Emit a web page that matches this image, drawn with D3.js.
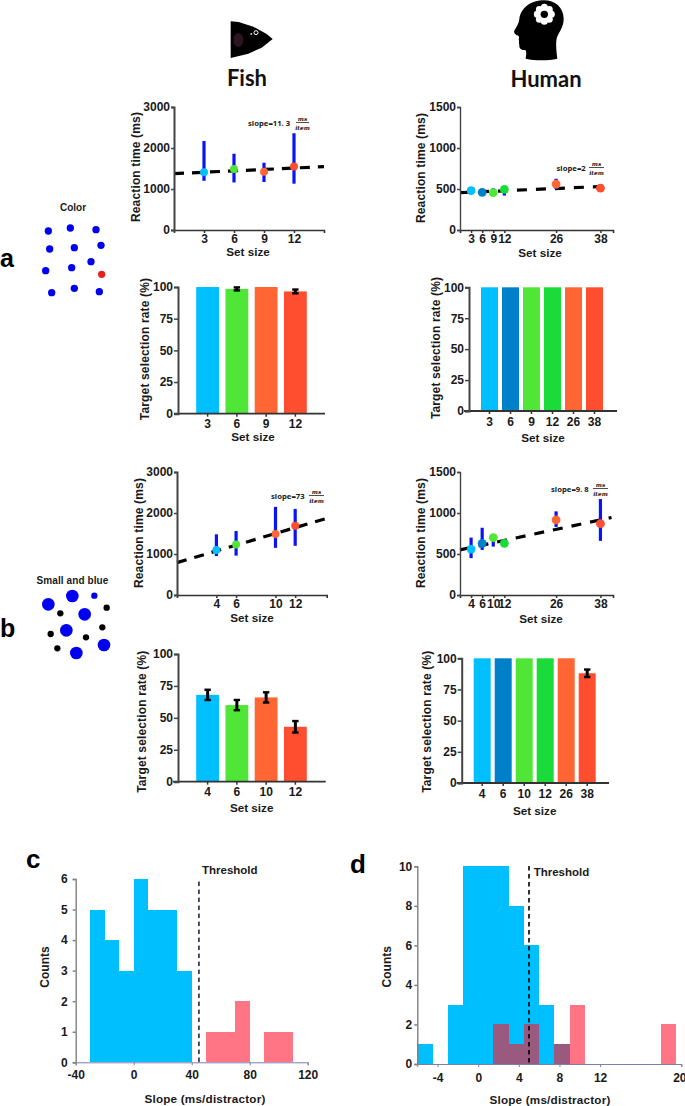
<!DOCTYPE html>
<html><head><meta charset="utf-8">
<script src="https://cdn.jsdelivr.net/npm/d3@7"></script>
<style>html,body{margin:0;background:#fff}svg{display:block}text{font-family:"Liberation Sans",Arial,sans-serif;font-weight:700;fill:#1a1a1a}</style>
</head><body><svg id="c" width="685" height="1106"></svg>
<script>
// ---------- data ----------
const fishA_sizes=[3,6,9,12];
const fishA_rt=[1410,1490,1420,1550];
const fishA_lo=[1200,1160,1170,1130];
const fishA_hi=[2170,1860,1640,2360];
const fishA_fit=[[0,1375],[15,1545]];
const fishA_rate=[100,98.5,100,96.5];
const fishA_rateErr=[0,1.2,0,1.5];

const humanA_sizes=[3,6,9,12,26,38];
const humanA_pos=[3,6,9,12,26,38];
const humanA_rt=[480,460,455,495,560,510];
const humanA_lo=[470,415,430,420,500,500];
const humanA_hi=[490,490,510,530,625,520];
const humanA_fit=[[0,455],[38,530]];
const humanA_rate=[100,100,100,100,100,100];
const humanA_rateErr=[0,0,0,0,0,0];

const fishB_sizes=[4,6,10,12];
const fishB_rt=[1095,1230,1490,1690];
const fishB_lo=[950,960,1150,1200];
const fishB_hi=[1480,1560,2150,2100];
const fishB_fit=[[0,790],[15.2,1870]];
const fishB_rate=[68,60,66,43];
const fishB_rateErr=[4,4,4,4.5];

const humanB_sizes=[4,6,10,12,26,38];
const humanB_pos=[3,6,9,12,26,38];
const humanB_rt=[560,630,700,630,915,870];
const humanB_lo=[450,550,590,620,830,660];
const humanB_hi=[700,820,710,640,1020,1170];
const humanB_fit=[[0,550],[41,945]];
const humanB_rate=[100,100,100,100,100,88];
const humanB_rateErr=[0,0,0,0,0,3];

const colors4=["#00BFFF","#4FE637","#FF6633","#FF4D30"];
const colors6=["#00BFFF","#0080C8","#4FE637","#1ADB3A","#FF6633","#FF4D30"];

const cBlueEdges=[-30,-20,-10,0,10,20,30];
const cBlueCounts=[5,4,3,6,5,5,3];
const cPinkEdges=[50,60,70,80,90,100];
const cPinkCounts=[1,1,2,0,1,1];
const cBinWidth=10, cThreshold=45;
const cXTicks=[-40,0,40,80,120], cYTicks=[0,1,2,3,4,5,6];

const dBlueEdges=[-6,-4.5,-3,-1.5,0,1.5,3,4.5,6,7.5];
const dBlueCounts=[1,0,3,10,10,10,8,6,3,1];
const dPinkEdges=[1.5,3,4.5,7.5,9,18];
const dPinkCounts=[2,1,2,1,3,2];
const dBinWidth=1.5, dThreshold=5;
const dXTicks=[-4,0,4,8,12,20], dYTicks=[0,2,4,6,8,10];

const colorDotsX=[145,211,288,149,223,303,273,137,215,305,155,223,298];
const colorDotsY=[123,114,119,177,173,166,215,242,233,253,308,295,305];
const colorDotsFill=["b","b","b","b","b","b","b","b","b","r","b","b","b"];
const mixDotsX=[145,217,254,199,312,229,283,181,320,307,152,258,172];
const mixDotsY=[118,93,148,196,240,264,92,145,128,187,207,217,250];
const mixDotsSize=[19,19,19,19,19,19,9.5,9.5,9.5,9.5,9.5,9.5,9.5];
const mixDotsFill=["b","b","b","b","b","b","b","k","k","k","k","k","k"];

// ---------- drawing ----------
const svg=d3.select("#c");
const FS=12, TS=12;
function txt(x,y,s,o={}){
  const t=svg.append("text").attr("x",x).attr("y",y).text(s)
    .attr("text-anchor",o.a||"middle").attr("dominant-baseline",o.b||"central")
    .style("font-size",(o.fs||TS)+"px");
  if(o.rot) t.attr("transform",`rotate(-90 ${x} ${y})`);
  if(o.font) t.style("font-family",o.font);
  if(o.w) t.style("font-weight",o.w);
  if(o.st) t.style("font-style",o.st);
  if(o.fill) t.style("fill",o.fill);
  if(o.ls) t.style("letter-spacing",o.ls+"px");
  return t;
}
function styleAxis(g,col,w){
  g.selectAll("path.domain").attr("stroke",col).attr("stroke-width",w);
  g.selectAll(".tick line").attr("stroke",col).attr("stroke-width",w===1?1:1.5);
  g.selectAll(".tick text").style("font-size",FS+"px").style("fill","#1a1a1a");
}
function slope(L,val,y,f0,f1){
  const ser='"DejaVu Serif",serif';
  txt(L,y,"slope="+val,{a:"start",fs:7.7,font:'"Noto Sans",sans-serif'});
  svg.append("line").attr("x1",f0).attr("x2",f1).attr("y1",y-.5).attr("y2",y-.5).attr("stroke","#222").attr("stroke-width",.8);
  txt((f0+f1)/2,y-4.5,"ms",{fs:5.8,font:ser,st:"italic"});
  txt((f0+f1)/2,y+5,"item",{fs:5.8,font:ser,st:"italic"});
}
function rtPanel(p){
  const x=d3.scaleLinear().domain([0,p.xMax]).range([p.x0,p.x1]);
  const y=d3.scaleLinear().domain([0,p.yMax]).range([p.y0,p.yT]);
  const g=svg.append("g");
  const line=d3.line().x(d=>x(d[0])).y(d=>y(d[1]));
  g.append("path").attr("d",line(p.fit)).attr("fill","none").attr("stroke","#000").attr("stroke-width",3.2).attr("stroke-dasharray",p.dash);
  p.pos.forEach((v,i)=>{
    g.append("line").attr("x1",x(v)).attr("x2",x(v)).attr("y1",y(p.lo[i])).attr("y2",y(p.hi[i])).attr("stroke","#0A14F0").attr("stroke-width",3.2);
  });
  p.pos.forEach((v,i)=>{
    g.append("circle").attr("cx",x(v)).attr("cy",y(p.rt[i])).attr("r",p.r).attr("fill",p.colors[i]);
  });
  const ax=svg.append("g").attr("transform",`translate(0,${p.y0})`).call(
    d3.axisBottom(x).tickValues(p.pos).tickFormat((d,i)=>p.sizes[i]).tickSize(3).tickPadding(1));
  const ay=svg.append("g").attr("transform",`translate(${p.x0},0)`).call(
    d3.axisLeft(y).tickValues(p.yTicks).tickFormat(d3.format("d")).tickSize(3).tickPadding(1));
  styleAxis(ax,"#333",1.6);styleAxis(ay,"#444",p.yw||2);
  txt(p.tx,p.tyc,"Reaction time (ms)",{rot:1,ls:.15});
  txt(p.sx,p.sy,"Set size",{fs:11.7});
}
function barPanel(p){
  const x=d3.scaleBand().domain(p.sizes.map(String)).range([p.r0,p.r1]).paddingInner(p.pad).paddingOuter(p.pad/2);
  const y=d3.scaleLinear().domain([0,100]).range([p.y0,p.yT]);
  p.vals.forEach((v,i)=>{
    svg.append("rect").attr("x",x(String(p.sizes[i]))).attr("width",x.bandwidth()).attr("y",y(v)).attr("height",p.y0-y(v)).attr("fill",p.colors[i]);
  });
  p.errs.forEach((e,i)=>{
    if(!e) return;
    const c=x(String(p.sizes[i]))+x.bandwidth()/2, v=p.vals[i];
    svg.append("line").attr("x1",c).attr("x2",c).attr("y1",y(v-e)).attr("y2",y(v+e)).attr("stroke","#000").attr("stroke-width",3);
    [v-e,v+e].forEach(t=>svg.append("line").attr("x1",c-3.2).attr("x2",c+3.2).attr("y1",y(t)).attr("y2",y(t)).attr("stroke","#000").attr("stroke-width",2.4));
  });
  const ax=svg.append("g").attr("transform",`translate(0,${p.y0})`).call(
    d3.axisBottom(x).tickSize(3).tickPadding(p.tp||3));
  ax.select("path.domain").attr("d",`M${p.xa},0H${p.xb}`);
  const ay=svg.append("g").attr("transform",`translate(${p.ya},0)`).call(
    d3.axisLeft(y).tickValues([0,25,50,75,100]).tickSize(4).tickPadding(1));
  styleAxis(ax,"#333",1.8);styleAxis(ay,"#444",2);
  txt(p.tx,p.tyc,"Target selection rate (%)",{rot:1,ls:.15});
  txt(p.sx,p.sy,"Set size",{fs:11.7});
}
function histPanel(p){
  const x=d3.scaleLinear().domain(p.xd).range([p.x0,p.x1]);
  const y=d3.scaleLinear().domain(p.yd).range([p.y0,p.yT]);
  const rect=(e,c,f)=>svg.append("rect").attr("x",x(e)).attr("width",x(e+p.bw)-x(e)).attr("y",y(c)).attr("height",p.y0-y(c)).attr("fill",f).attr("shape-rendering","crispEdges");
  p.blueE.forEach((e,i)=>p.blueC[i]&&rect(e,p.blueC[i],"#00BFFF"));
  p.pinkE.forEach((e,i)=>{
    if(!p.pinkC[i]) return;
    rect(e,p.pinkC[i],"#FF7585");
    const bi=p.blueE.indexOf(e);
    if(bi>=0&&p.blueC[bi]) rect(e,Math.min(p.blueC[bi],p.pinkC[i]),"#9A5A80");
  });
  const ax=svg.append("g").attr("transform",`translate(0,${p.y0})`).call(
    d3.axisBottom(x).tickValues(p.xt).tickFormat(d=>String(d)).tickSize(3).tickPadding(p.tp));
  const ay=svg.append("g").attr("transform",`translate(${p.x0},0)`).call(
    d3.axisLeft(y).tickValues(p.yt).tickFormat(d3.format("d")).tickSize(3).tickPadding(p.ytp));
  styleAxis(ax,"#7d7db0",1);styleAxis(ay,"#808080",1.4);
  ay.selectAll(".tick line").attr("stroke","#808080");
  ax.selectAll(".tick text").filter(d=>d===p.lastTick).attr("dx",-2);
  svg.append("line").attr("x1",x(p.th)).attr("x2",x(p.th)).attr("y1",p.thTop).attr("y2",p.y0+1).attr("stroke",p.thC).attr("stroke-width",1.6).attr("stroke-dasharray","4.5,3.5");
  txt(p.thx,p.thy,"Threshold",{a:"start",fs:11.5});
  txt(p.cx,p.cy,"Counts",{rot:1});
  txt(p.slx,p.sly,"Slope (ms/distractor)",{fs:11.7,ls:.2});
}
function dots(xs,ys,rs,fills,ox,oy,pal){
  const sx=d3.scaleLinear().domain([0,300]).range([ox,ox+100]);
  const sy=d3.scaleLinear().domain([0,300]).range([oy,oy+100]);
  xs.forEach((v,i)=>svg.append("circle").attr("cx",sx(v)).attr("cy",sy(ys[i])).attr("r",(rs?rs[i]:11)/3).attr("fill",pal[fills[i]]));
}

// titles & icons
const ttl='Lato,"Open Sans",sans-serif';
txt(247,77,"Fish",{fs:22,font:ttl,fill:"#111"});
txt(546,78,"Human",{fs:22,font:ttl,fill:"#111"});
const fz=d3.scaleLinear().domain([0,3]).range([0,1]);
const fish=svg.append("g").attr("transform","translate(120,0)");
fish.append("path").attr("d",d3.line()([[332,64],[356,66],[400,80],[440,102],[458,117],[425,143],[385,161],[332,174]].map(d=>[fz(d[0]),fz(d[1])]))+"Z").attr("fill","#000");
fish.append("ellipse").attr("cx",fz(355)).attr("cy",fz(120)).attr("rx",5).attr("ry",7).attr("fill","#2b1320");
fish.append("circle").attr("cx",fz(408)).attr("cy",fz(98)).attr("r",2).attr("fill","none").attr("stroke","#fff").attr("stroke-width",1);
fish.append("circle").attr("cx",fz(394)).attr("cy",fz(102)).attr("r",1).attr("fill","#ccc");
const head=svg.append("g").attr("transform","translate(420,0) scale(0.3333)");
head.append("path").attr("d","M372,1 C405,1 430,22 431,55 C432,80 418,95 411,112 C406,128 410,160 412,176 C385,182 345,182 317,176 C319,162 320,155 316,150 C305,152 297,146 298,135 C296,128 298,122 296,118 C298,112 298,108 292,106 C284,103 280,96 284,90 C292,78 297,68 298,58 C302,22 335,1 372,1Z").attr("fill","#000");
d3.range(8).forEach(i=>{const a=i*Math.PI/4;head.append("circle").attr("cx",373+21*Math.cos(a)).attr("cy",43+21*Math.sin(a)).attr("r",10.5).attr("fill","#fff");});
head.append("circle").attr("cx",373).attr("cy",43).attr("r",22).attr("fill","#fff");
head.append("circle").attr("cx",373).attr("cy",43).attr("r",11).attr("fill","#000");

// panel letters
txt(0,267,"a",{a:"start",b:"auto",fs:25,fill:"#000"});
txt(0,637,"b",{a:"start",b:"auto",fs:25,fill:"#000"});
txt(26,868,"c",{a:"start",b:"auto",fs:26,fill:"#000"});
txt(350,873,"d",{a:"start",b:"auto",fs:26,fill:"#000"});

// stimuli
txt(73,207,"Color",{fs:10});
dots(colorDotsX,colorDotsY,null,colorDotsFill,0,190,{b:"#0000F0",r:"#E8201C"});
txt(72.5,580,"Small and blue",{fs:10,ls:.1});
dots(mixDotsX,mixDotsY,mixDotsSize,mixDotsFill,0,565,{b:"#0000F0",k:"#000"});

rtPanel({sizes:fishA_sizes,pos:fishA_sizes,rt:fishA_rt,lo:fishA_lo,hi:fishA_hi,fit:fishA_fit,colors:colors4,r:4,
  xMax:15,x0:174,x1:324,yMax:3000,y0:230,yT:107,yTicks:[0,1000,2000,3000],dash:"10,8",tx:136,tyc:167,sx:248,sy:251});
rtPanel({sizes:humanA_sizes,pos:humanA_pos,rt:humanA_rt,lo:humanA_lo,hi:humanA_hi,fit:humanA_fit,colors:colors6,r:4.4,
  xMax:41.4,x0:460,x1:613,yMax:1500,y0:230,yT:107,yTicks:[0,500,1000,1500],dash:"10,9",tx:421,tyc:168,sx:540,sy:252,yw:1.4});
rtPanel({sizes:fishB_sizes,pos:fishB_sizes,rt:fishB_rt,lo:fishB_lo,hi:fishB_hi,fit:fishB_fit,colors:colors4,r:4,
  xMax:15.2,x0:177,x1:326.7,yMax:3000,y0:595,yT:472,yTicks:[0,1000,2000,3000],dash:"10,8",tx:139,tyc:533,sx:252,sy:617});
rtPanel({sizes:humanB_sizes,pos:humanB_pos,rt:humanB_rt,lo:humanB_lo,hi:humanB_hi,fit:humanB_fit,colors:colors6,r:4.4,
  xMax:41.4,x0:460,x1:613,yMax:1500,y0:595,yT:472,yTicks:[0,500,1000,1500],dash:"10,9",tx:421,tyc:533,sx:541,sy:618,yw:1.4});

slope(248,"11. 3",123,296,309);
slope(556.5,"2",168,589,604);
slope(271,"73",496,309,324);
slope(551,"9. 8",489,593,608);

barPanel({sizes:fishA_sizes,vals:fishA_rate,errs:fishA_rateErr,colors:colors4,r0:193,r1:310,pad:.22,y0:413.7,yT:287,xa:174,xb:325,ya:178,tx:145,tyc:349,sx:253,sy:436});
barPanel({sizes:humanA_sizes,vals:humanA_rate,errs:humanA_rateErr,colors:colors6,r0:479,r1:605,pad:.19,y0:411,yT:287.3,xa:464,xb:617,ya:469,tx:435.7,tyc:348,sx:543,sy:437});
barPanel({sizes:fishB_sizes,vals:fishB_rate,errs:fishB_rateErr,colors:colors4,r0:193,r1:310,pad:.22,y0:781.7,yT:654,xa:173,xb:325.7,ya:178,tx:142,tyc:721.7,sx:251.7,sy:807});
barPanel({sizes:humanB_sizes,vals:humanB_rate,errs:humanB_rateErr,colors:colors6,r0:471.7,r1:597.7,pad:.19,y0:783,yT:658.3,xa:456.7,xb:609,ya:461.7,tx:426.7,tyc:721.7,sx:534.7,sy:810,tp:3});

histPanel({xd:[-40,120],yd:[0,6],x0:75.7,x1:307.7,y0:1062.3,yT:879,blueE:cBlueEdges,blueC:cBlueCounts,pinkE:cPinkEdges,pinkC:cPinkCounts,bw:cBinWidth,
  xt:cXTicks,yt:cYTicks,tp:5,ytp:5,th:cThreshold,thTop:881.5,thC:"#2a2a4a",thx:202,thy:870,cx:45,cy:967,slx:205,sly:1098});
histPanel({xd:[-6,20],yd:[0,10],x0:417.3,x1:681.3,y0:1064,yT:866.3,blueE:dBlueEdges,blueC:dBlueCounts,pinkE:dPinkEdges,pinkC:dPinkCounts,bw:dBinWidth,
  xt:dXTicks,yt:dYTicks,tp:6,ytp:2,lastTick:20,th:dThreshold,thTop:866,thC:"#000",thx:533.7,thy:872,cx:387.3,cy:966.7,slx:550,sly:1099});
</script></body></html>
